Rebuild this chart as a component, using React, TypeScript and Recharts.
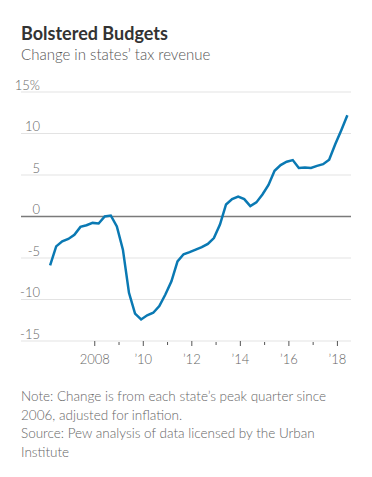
import { LineChart, Line, XAxis, YAxis, CartesianGrid, ReferenceLine } from "recharts"

const quarters = [
  "2006Q1", "2006Q2", "2006Q3", "2006Q4",
  "2007Q1", "2007Q2", "2007Q3", "2007Q4",
  "2008Q1", "2008Q2", "2008Q3", "2008Q4",
  "2009Q1", "2009Q2", "2009Q3", "2009Q4",
  "2010Q1", "2010Q2", "2010Q3", "2010Q4",
  "2011Q1", "2011Q2", "2011Q3", "2011Q4",
  "2012Q1", "2012Q2", "2012Q3", "2012Q4",
  "2013Q1", "2013Q2", "2013Q3", "2013Q4",
  "2014Q1", "2014Q2", "2014Q3", "2014Q4",
  "2015Q1", "2015Q2", "2015Q3", "2015Q4",
  "2016Q1", "2016Q2", "2016Q3", "2016Q4",
  "2017Q1", "2017Q2", "2017Q3", "2017Q4",
  "2018Q1", "2018Q2",
]

const revenueChange = [
  -5.9, -3.6, -3.0, -2.7, -2.2, -1.25, -1.05, -0.77, -0.85, 0.0,
  0.12, -1.2, -4.0, -9.2, -11.7, -12.4, -11.9, -11.6, -10.8, -9.4,
  -7.8, -5.4, -4.55, -4.3, -4.0, -3.7, -3.3, -2.6, -0.97, 1.45,
  2.1, 2.4, 2.1, 1.25, 1.7, 2.65, 3.8, 5.5, 6.2, 6.6,
  6.8, 5.85, 5.9, 5.85, 6.1, 6.3, 6.85, 8.7, 10.4, 12.2,
]

const yTicks = [-15, -10, -5, 0, 5, 10, 15]
const xTicks = [2008, 2009, 2010, 2011, 2012, 2013, 2014, 2015, 2016, 2017, 2018]
const xLabels: Record<number, string> = { 2008: "2008", 2010: "’10", 2012: "’12", 2014: "’14", 2016: "’16", 2018: "’18" }

const data = quarters.map((q, i) => ({
  t: Number(q.slice(0, 4)) + (Number(q.slice(5)) - 1) * 0.25 + 0.16,
  value: revenueChange[i],
}))

const FONT = "Lato, 'DejaVu Sans', sans-serif"

function YTick(props: any) {
  const { y, payload } = props
  const v = payload.value
  return (
    <text x={40} y={y - 2.5} textAnchor="end" fill="#666" fontSize={13} fontFamily={FONT} fontWeight={300}>
      {v}
      {v === 15 && <tspan>%</tspan>}
    </text>
  )
}

function XTick(props: any) {
  const { x, y, payload } = props
  const label = xLabels[payload.value]
  const major = label !== undefined
  return (
    <g>
      <line x1={x} x2={x} y1={y - 8 + (major ? 0 : 1)} y2={y - 8 + (major ? 5 : 4)} stroke="#555" strokeWidth={1} />
      {major && (
        <text x={x} y={y + 15} textAnchor="middle" fill="#666" fontSize={13} fontFamily={FONT} fontWeight={300}>
          {label}
        </text>
      )}
    </g>
  )
}

export default function App() {
  return (
    <div style={{ position: "absolute", left: 0, top: 0, width: 372, height: 477, background: "#fff", fontFamily: FONT }}>
      <div style={{ position: "absolute", left: 21, top: 22, fontSize: 18, fontWeight: 700, color: "#333" }}>
        Bolstered Budgets
      </div>
      <div style={{ position: "absolute", left: 21, top: 45, fontSize: 15, fontWeight: 300, color: "#555" }}>
        Change in states’ tax revenue
      </div>
      <div style={{ position: "absolute", left: 0, top: 0 }}>
        <LineChart width={372} height={372} data={data} margin={{ top: 92, right: 21, bottom: 0, left: 20 }}>
          <CartesianGrid horizontal vertical={false} stroke="#e3e3e3" strokeWidth={1} />
          <XAxis
            dataKey="t"
            type="number"
            domain={[2004.96, 2018.56]}
            ticks={xTicks}
            axisLine={false}
            tickLine={false}
            height={31}
            tick={<XTick />}
            interval={0}
          />
          <YAxis
            type="number"
            domain={[-15, 15]}
            ticks={yTicks}
            width={1}
            axisLine={false}
            tickLine={false}
            tick={<YTick />}
            interval={0}
          />
          <ReferenceLine y={0} stroke="#7a7a7a" strokeWidth={1.5} />
          <Line
            type="linear"
            dataKey="value"
            stroke="#0a79b3"
            strokeWidth={2.5}
            dot={false}
            isAnimationActive={false}
          />
        </LineChart>
      </div>
      <div style={{ position: "absolute", left: 21, top: 387, width: 328, fontSize: 13.5, lineHeight: "18.5px", fontWeight: 300, color: "#666" }}>
        Note: Change is from each state’s peak quarter since 2006, adjusted for inflation.
        <br />
        Source: Pew analysis of data licensed by the Urban Institute
      </div>
    </div>
  )
}
